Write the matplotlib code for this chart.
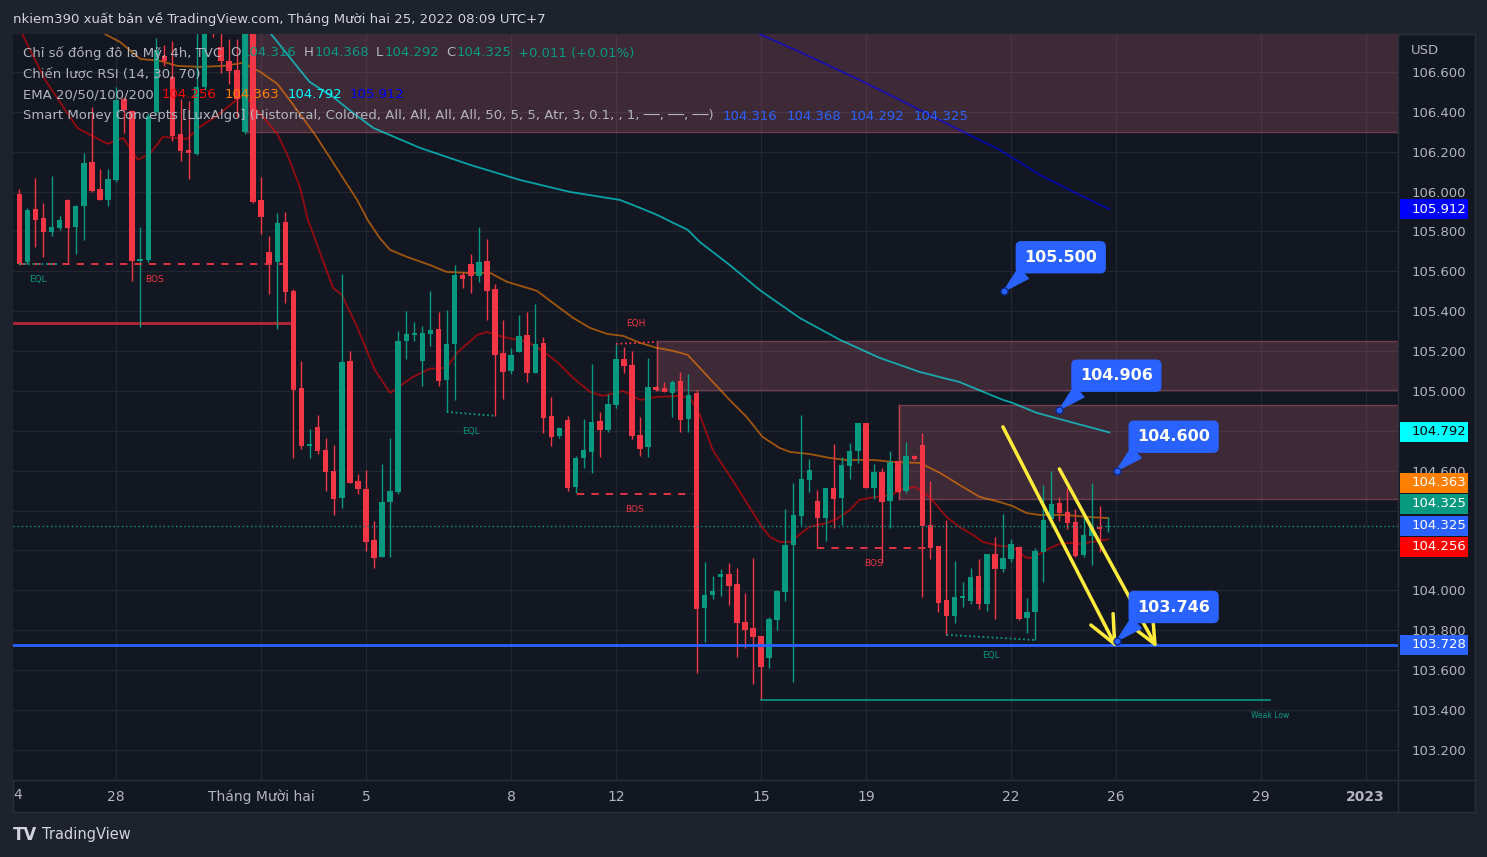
import numpy as np
import matplotlib
matplotlib.use('Agg')
import matplotlib.pyplot as plt
from matplotlib.patches import Rectangle
from matplotlib.lines import Line2D
from matplotlib.transforms import blended_transform_factory

plt.rcParams['font.family'] = ['DejaVu Sans']

W, H = 1487, 857
BG = '#131722'
OUTER = '#1e222d'
GRID = '#222631'
TXT = '#b2b5be'
UP = '#089981'
DOWN = '#f23645'

## DXY 4h candles (one value per bar)
opens = [105.988, 105.647, 105.913, 105.868, 105.798, 105.818, 105.958, 105.823, 105.928, 106.149,
         106.013, 105.958, 106.058, 106.465, 106.404, 105.652, 105.657, 106.399, 106.680, 106.575,
         106.289, 106.209, 106.189, 106.525, 106.851, 106.725, 106.655, 106.610, 106.299, 106.811,
         105.958, 105.697, 105.647, 105.848, 105.502, 105.015, 104.724, 104.819, 104.704, 104.599,
         104.464, 105.151, 104.549, 104.509, 104.253, 104.168, 104.443, 104.494, 105.251, 105.281,
         105.151, 105.286, 105.311, 105.055, 105.236, 105.582, 105.637, 105.577, 105.652, 105.512,
         105.191, 105.100, 105.196, 105.281, 105.090, 105.241, 104.875, 104.774, 104.854, 104.519,
         104.664, 104.694, 104.850, 104.805, 104.930, 105.161, 105.131, 104.779, 104.719, 105.020,
         105.015, 104.990, 105.050, 104.860, 104.990, 103.912, 103.977, 104.068, 104.083, 104.033,
         103.842, 103.811, 103.771, 103.661, 103.852, 103.992, 104.228, 104.373, 104.554, 104.449,
         104.363, 104.514, 104.464, 104.624, 104.699, 104.840, 104.514, 104.594, 104.449, 104.649,
         104.499, 104.674, 104.729, 104.328, 104.223, 103.952, 103.872, 103.962, 103.947, 104.073,
         103.932, 104.183, 104.108, 104.158, 104.218, 103.862, 103.892, 104.193, 104.358, 104.439,
         104.393, 104.343, 104.178, 104.273, 104.318, 104.316]
highs = [106.013, 105.918, 106.068, 105.943, 106.078, 105.878, 105.963, 105.933, 106.194, 106.424,
         106.114, 106.114, 106.525, 106.475, 106.409, 105.823, 106.394, 106.770, 106.735, 106.755,
         106.465, 106.455, 106.811, 106.861, 106.911, 106.795, 106.765, 106.765, 106.861, 106.836,
         106.073, 105.778, 105.893, 105.898, 105.512, 105.151, 104.810, 104.880, 104.764, 104.729,
         105.587, 105.201, 104.584, 104.604, 104.348, 104.634, 104.764, 105.301, 105.401, 105.346,
         105.326, 105.502, 105.396, 105.406, 105.632, 105.597, 105.687, 105.823, 105.762, 105.537,
         105.356, 105.216, 105.381, 105.396, 105.436, 105.271, 104.970, 104.819, 104.875, 104.674,
         104.860, 105.136, 104.895, 104.985, 105.236, 105.221, 105.201, 104.870, 105.166, 105.025,
         105.045, 105.055, 105.095, 105.085, 105.005, 104.143, 104.072, 104.108, 104.138, 104.113,
         103.987, 104.163, 103.771, 103.867, 104.002, 104.409, 104.539, 104.880, 104.659, 104.504,
         104.514, 104.734, 104.669, 104.739, 104.840, 104.840, 104.634, 104.614, 104.699, 104.649,
         104.745, 104.679, 104.790, 104.549, 104.223, 104.353, 104.148, 104.042, 104.113, 104.158,
         104.183, 104.268, 104.383, 104.258, 104.223, 103.962, 104.213, 104.529, 104.599, 104.469,
         104.514, 104.409, 104.394, 104.539, 104.424, 104.368]
lows = [105.632, 105.637, 105.722, 105.672, 105.778, 105.808, 105.637, 105.687, 105.757, 105.998,
        105.958, 105.928, 106.048, 106.294, 105.552, 105.321, 105.647, 106.389, 106.630, 106.254,
        106.154, 106.063, 106.184, 106.510, 106.775, 106.595, 106.540, 106.374, 106.289, 105.943,
        105.788, 105.487, 105.311, 105.441, 104.664, 104.709, 104.664, 104.684, 104.499, 104.378,
        104.413, 104.539, 104.484, 104.198, 104.113, 104.168, 104.168, 104.484, 105.161, 105.251,
        105.025, 105.226, 105.025, 104.895, 104.955, 105.517, 105.492, 105.547, 105.356, 104.875,
        104.960, 105.085, 105.196, 105.045, 105.090, 104.789, 104.724, 104.764, 104.499, 104.489,
        104.614, 104.589, 104.669, 104.795, 104.915, 105.090, 104.759, 104.674, 104.669, 105.000,
        104.995, 104.870, 104.795, 104.795, 103.586, 103.742, 103.957, 103.972, 103.927, 103.666,
        103.711, 103.531, 103.451, 103.611, 103.801, 103.947, 103.541, 104.328, 104.494, 104.213,
        104.248, 104.313, 104.328, 104.559, 104.639, 104.514, 104.459, 104.138, 104.313, 104.494,
        104.489, 104.654, 103.967, 104.158, 103.892, 103.777, 103.837, 103.917, 103.932, 103.907,
        103.897, 103.857, 104.093, 104.143, 103.852, 103.787, 103.751, 104.042, 104.333, 104.348,
        104.308, 104.168, 104.168, 104.128, 104.193, 104.292]
closes = [105.637, 105.908, 105.858, 105.798, 105.823, 105.858, 105.818, 105.928, 106.144, 106.003,
          105.958, 106.063, 106.460, 106.409, 105.652, 105.662, 106.379, 106.710, 106.655, 106.279,
          106.204, 106.194, 106.525, 106.836, 106.821, 106.655, 106.605, 106.465, 106.811, 105.948,
          105.873, 105.642, 105.843, 105.497, 105.005, 104.724, 104.734, 104.699, 104.594, 104.459,
          105.146, 104.539, 104.509, 104.243, 104.163, 104.443, 104.499, 105.251, 105.286, 105.291,
          105.291, 105.306, 105.050, 105.236, 105.582, 105.562, 105.577, 105.647, 105.502, 105.180,
          105.095, 105.180, 105.276, 105.090, 105.236, 104.865, 104.769, 104.814, 104.514, 104.664,
          104.704, 104.845, 104.805, 104.935, 105.161, 105.126, 104.774, 104.709, 105.020, 105.005,
          104.995, 105.045, 104.855, 104.980, 103.907, 103.977, 103.997, 104.083, 104.023, 103.837,
          103.801, 103.766, 103.616, 103.857, 103.997, 104.228, 104.378, 104.559, 104.604, 104.363,
          104.514, 104.459, 104.629, 104.699, 104.840, 104.514, 104.594, 104.443, 104.644, 104.494,
          104.674, 104.659, 104.323, 104.213, 103.937, 103.872, 103.967, 103.972, 104.068, 103.932,
          104.183, 104.108, 104.163, 104.233, 103.857, 103.892, 104.198, 104.353, 104.434, 104.388,
          104.338, 104.173, 104.278, 104.323, 104.308, 104.325]

## EMA lines (bar index, price)
ema20_x = [0.1, 3.2, 7.2, 10.9, 12.9, 14.7, 16.2, 17.8, 20.8, 22.4, 24.5, 27.4, 28.6, 29.9, 32.0, 33.2,
           34.8, 35.8, 38.9, 40.0, 41.9, 44.1, 46.0, 48.8, 50.9, 53.0, 54.3, 56.8, 58.0, 60.0, 63.0,
           64.2, 66.7, 68.7, 70.8, 72.4, 74.9, 77.0, 79.1, 81.9, 83.2, 84.4, 86.0, 89.0, 92.1, 93.1,
           94.3, 95.6, 98.0, 100.1, 101.4, 103.0, 104.2, 106.3, 108.3, 109.2, 111.1, 112.9, 115.0,
           116.6, 118.3, 119.5, 121.6, 123.2, 124.9, 125.7, 127.4, 129.0, 130.3, 131.5, 133.1, 135.0]
ema20_y = [106.811, 106.560, 106.319, 106.239, 106.269, 106.159, 106.189, 106.274, 106.264, 106.324,
           106.379, 106.475, 106.454, 106.389, 106.289, 106.189, 106.023, 105.858, 105.517, 105.482,
           105.321, 105.105, 104.990, 105.070, 105.111, 105.116, 105.191, 105.281, 105.296, 105.271,
           105.246, 105.221, 105.146, 105.065, 104.995, 104.975, 105.000, 104.955, 104.970, 104.975,
           104.965, 104.880, 104.704, 104.519, 104.318, 104.268, 104.243, 104.243, 104.318, 104.338,
           104.358, 104.403, 104.454, 104.469, 104.479, 104.504, 104.519, 104.469, 104.368, 104.318,
           104.278, 104.243, 104.223, 104.218, 104.163, 104.163, 104.203, 104.233, 104.238, 104.233,
           104.243, 104.256]
ema50_x = [9.4, 10.6, 12.5, 15.0, 17.5, 19.6, 22.4, 25.3, 27.7, 29.9, 32.0, 33.9, 34.8, 36.7, 39.1,
           41.9, 43.2, 44.7, 46.0, 48.1, 50.9, 53.0, 55.5, 58.4, 60.5, 63.0, 64.2, 66.2, 68.7, 70.8,
           72.9, 74.9, 77.0, 79.1, 81.1, 82.9, 84.4, 88.1, 90.2, 92.2, 94.3, 95.6, 98.0, 100.5, 102.6,
           105.9, 108.3, 111.7, 114.2, 116.6, 119.1, 121.6, 123.2, 124.9, 126.6, 129.9, 132.4, 135.0]
ema50_y = [106.836, 106.790, 106.750, 106.665, 106.655, 106.630, 106.625, 106.630, 106.645, 106.600,
           106.540, 106.439, 106.389, 106.284, 106.134, 105.958, 105.858, 105.767, 105.707, 105.672,
           105.632, 105.597, 105.592, 105.592, 105.547, 105.517, 105.502, 105.441, 105.366, 105.316,
           105.286, 105.276, 105.241, 105.216, 105.201, 105.181, 105.116, 104.955, 104.870, 104.769,
           104.714, 104.694, 104.684, 104.664, 104.654, 104.654, 104.644, 104.639, 104.589, 104.529,
           104.469, 104.443, 104.423, 104.388, 104.378, 104.378, 104.368, 104.363]
ema100_x = [29.9, 31.1, 33.6, 36.0, 38.9, 41.4, 43.9, 49.7, 55.9, 62.1, 68.3, 74.5, 77.0, 79.1, 81.1,
            82.9, 84.4, 88.1, 91.8, 96.8, 101.8, 106.7, 111.7, 116.6, 122.0, 123.2, 126.2, 129.4, 135.2]
ema100_y = [106.861, 106.796, 106.670, 106.550, 106.475, 106.394, 106.319, 106.219, 106.134, 106.058,
            105.998, 105.958, 105.918, 105.883, 105.843, 105.808, 105.747, 105.632, 105.507, 105.366,
            105.256, 105.166, 105.095, 105.045, 104.955, 104.940, 104.890, 104.855, 104.792]
ema200_x = [89.4, 91.8, 96.8, 104.2, 109.2, 116.6, 121.6, 126.6, 131.5, 135.2]
ema200_y = [106.836, 106.790, 106.700, 106.560, 106.460, 106.309, 106.209, 106.083, 105.983, 105.912]

## Smart Money Concepts structures
bos_lines = [(0.0, 33.6, 105.637), (69.2, 83.5, 104.484), (99.0, 113.0, 104.213)]
eql_lines = [(0.0, 4.7, 105.637, 105.637), (53.0, 59.0, 104.895, 104.875), (115.0, 126.0, 103.777, 103.751)]
eqh_line = (74.0, 79.0, 105.236, 105.246)
swing_line = (-1.0, 33.7, 105.341)
weak_low = (92.0, 155.1, 103.451)
zones = [(28.0, 106.299, 106.95), (79.1, 105.005, 105.251), (109.1, 104.459, 104.930)]

support = 103.728
last_close = 104.325
notes = [(122.1, 105.500), (129.0, 104.906), (136.1, 104.600), (136.1, 103.746)]
arrows = [(122.0, 104.820, 136.1, 103.712), (129.0, 104.609, 141.1, 103.712)]

tick_pos = [12, 30, 43, 61, 74, 92, 105, 123, 136, 154, 167]
tick_lab = ['28', 'Tháng Mười hai', '5', '8', '12', '15', '19', '22', '26', '29', '2023']
price_ticks = np.round(np.arange(103.2, 106.7, 0.2), 1)
hidden_ticks = [104.2, 104.4]   # covered by the price tags

# price tags on the right scale: text, y position, background, text colour
tags = [('105.912', 105.912, '#0000ff', 'white'),
        ('104.792', 104.795, '#00ffff', 'black'),
        ('104.363', 104.539, '#ff8000', 'white'),
        ('104.325', 104.434, '#089981', 'white'),
        ('104.325', 104.323, '#2962ff', 'white'),
        ('104.256', 104.218, '#ff0000', 'white'),
        ('103.728', 103.726, '#2962ff', 'white')]


def fx(x):
    return x / W


def fy(y):
    return 1 - y / H


fig = plt.figure(figsize=(W / 100, H / 100), dpi=100, facecolor=OUTER)

# chart widget background + separators
fig.patches.append(Rectangle((fx(13), fy(812)), (1475 - 13) / W, (812 - 34) / H,
                             transform=fig.transFigure, fc=BG, ec='#2a2e39', lw=1, zorder=-5))
fig.add_artist(Line2D([fx(1398), fx(1398)], [fy(812), fy(34)], color='#2a2e39', lw=1, zorder=1))
fig.add_artist(Line2D([fx(13), fx(1475)], [fy(780), fy(780)], color='#2a2e39', lw=1, zorder=1))

ax = fig.add_axes([fx(13), fy(780), (1398 - 13) / W, (780 - 34) / H])
ax.set_facecolor(BG)
ax.set_xlim(-0.78, 171.0)
ax.set_ylim(103.049, 106.790)
for s in ax.spines.values():
    s.set_visible(False)

ax.yaxis.tick_right()
ax.set_yticks(price_ticks)
ax.set_yticklabels(['' if v in hidden_ticks else '%.3f' % v for v in price_ticks])
ax.tick_params(axis='y', length=0, pad=10, labelsize=9.5, labelcolor=TXT)
ax.set_xticks(tick_pos)
ax.set_xticklabels(tick_lab)
ax.tick_params(axis='x', length=0, pad=7, labelsize=10, labelcolor=TXT)
ax.get_xticklabels()[-1].set_fontweight('bold')
ax.grid(True, color=GRID, lw=1, zorder=0)
ax.set_axisbelow(True)

# the cut "24" at the left edge: only the 4 shows
fig.text(fx(13.5), fy(795), '4', color=TXT, fontsize=10, ha='left', va='center')

# zones
right = 172
for x0, y0, y1 in zones:
    ax.add_patch(Rectangle((x0, y0), right - x0, y1 - y0, fc=(0.93, 0.45, 0.55, 0.2),
                           ec=(0.93, 0.45, 0.55, 0.35), lw=1, zorder=1))
for x0, y0, y1 in zones[1:]:
    ax.plot([x0, x0], [y0, y1], color='#c2414f', lw=1, zorder=1.5)

# EMAs
ax.plot(ema20_x, ema20_y, color=(1, 0, 0, 0.55), lw=1.3, zorder=2)
ax.plot(ema50_x, ema50_y, color=(1, 0.5, 0, 0.6), lw=1.3, zorder=2)
ax.plot(ema100_x, ema100_y, color=(0, 1, 1, 0.6), lw=1.3, zorder=2)
ax.plot(ema200_x, ema200_y, color=(0, 0, 1, 0.6), lw=1.3, zorder=2)

# candles
o = np.array(opens)
hi = np.array(highs)
lo = np.array(lows)
c = np.array(closes)
x = np.arange(len(o))
col = np.where(c >= o, UP, DOWN)
ax.vlines(x, lo, hi, colors=col, lw=1, zorder=3)
ax.bar(x, np.maximum(np.abs(c - o), 0.006), bottom=np.minimum(o, c), width=0.68,
       color=col, lw=0, zorder=4)

# SMC lines and labels
xs0, xs1, ys = swing_line
ax.plot([xs0, xs1], [ys, ys], color='#b22833', lw=2, zorder=2.5)
for x0, x1, y in bos_lines:
    ax.plot([x0, x1], [y, y], color=DOWN, lw=1.3, ls=(0, (4, 4)), zorder=5)
    ax.text((x0 + x1) / 2, y - 0.08, 'BOS', color=DOWN, fontsize=6.5, ha='center', va='center', zorder=5)
for x0, x1, y0, y1 in eql_lines:
    ax.plot([x0, x1], [y0, y1], color=UP, lw=1.3, ls=(0, (1, 1.5)), zorder=5)
    ax.text((x0 + x1) / 2, min(y0, y1) - 0.08, 'EQL', color=UP, fontsize=6.5, ha='center', va='center', zorder=5)
x0, x1, y0, y1 = eqh_line
ax.plot([x0, x1], [y0, y1], color=DOWN, lw=1.3, ls=(0, (1, 1.5)), zorder=5)
ax.text((x0 + x1) / 2, y1 + 0.09, 'EQH', color=DOWN, fontsize=6.5, ha='center', va='center', zorder=5)
x0, x1, y = weak_low
ax.plot([x0, x1], [y, y], color=UP, lw=1.2, zorder=5)
ax.text(x1, y - 0.08, 'Weak Low', color=UP, fontsize=5.5, ha='center', va='center', zorder=5)

ax.axhline(support, color='#2962ff', lw=2, zorder=5)
ax.axhline(last_close, color=UP, lw=1, ls=(0, (1, 2)), zorder=5)

# yellow arrows
for xa, ya, xb, yb in arrows:
    ax.annotate('', xy=(xb, yb), xytext=(xa, ya),
                arrowprops=dict(arrowstyle='->,head_length=1.0,head_width=0.45', color='#ffeb3b',
                                lw=2.5, shrinkA=0, shrinkB=0, mutation_scale=20), zorder=6)

# price notes
for xn, yn in notes:
    ax.annotate('%.3f' % yn, xy=(xn, yn), xytext=(57, 34), textcoords='offset pixels',
                ha='center', va='center', fontsize=11.5, fontweight='bold', color='white', zorder=7,
                bbox=dict(boxstyle='round,pad=0.5,rounding_size=0.3', fc='#2962ff', ec='#2962ff'),
                arrowprops=dict(arrowstyle='wedge,tail_width=0.9,shrink_factor=0.5', fc='#2962ff',
                                ec='#2962ff', relpos=(0.15, 0.15), shrinkA=0, shrinkB=0))
    ax.plot(xn, yn, 'o', ms=5, mfc='#2962ff', mec='#0d2a8a', mew=1, zorder=8)

# right scale tags
tr = blended_transform_factory(ax.transAxes, ax.transData)
aw = (1398 - 13) / 1.0
th = 20 * (106.790 - 103.049) / 746
for txt, yp, bg, fg in tags:
    ax.add_patch(Rectangle(((1400 - 13) / aw, yp - th / 2), 68 / aw, th, transform=tr,
                           fc=bg, ec='none', clip_on=False, zorder=9))
    ax.text((1412 - 13) / aw, yp, txt, transform=tr, color=fg, fontsize=9.5,
            ha='left', va='center', clip_on=False, zorder=10)

fig.text(fx(1411), fy(50), 'USD', color=TXT, fontsize=9.5, va='center', ha='left')

# header / footer
fig.text(fx(13), fy(19), 'nkiem390 xuất bản về TradingView.com, Tháng Mười hai 25, 2022 08:09 UTC+7',
         color='#d1d4dc', fontsize=9.5, va='center', ha='left')
fig.text(fx(13), fy(835), 'TV', color='#d1d4dc', fontsize=12, fontweight='bold', va='center', ha='left')
fig.text(fx(42), fy(835), 'TradingView', color='#d1d4dc', fontsize=10.5, va='center', ha='left')

# legend rows with coloured values
fig.canvas.draw()
rend = fig.canvas.get_renderer()


def seq_text(x0, y0, parts, size=9.5):
    xx = x0
    for s, colr, gap in parts:
        t = fig.text(fx(xx), fy(y0), s, color=colr, fontsize=size, va='center', ha='left', zorder=11)
        xx = t.get_window_extent(rend).x1 + gap


seq_text(23, 53, [('Chỉ số đồng đô la Mỹ, 4h, TVC', TXT, 8), ('O', TXT, 1), ('104.316', UP, 7),
                  ('H', TXT, 1), ('104.368', UP, 7), ('L', TXT, 1), ('104.292', UP, 7),
                  ('C', TXT, 1), ('104.325', UP, 7), ('+0.011 (+0.01%)', UP, 0)])
seq_text(23, 74, [('Chiến lược RSI (14, 30, 70)', TXT, 0)])
seq_text(23, 95, [('EMA 20/50/100/200', TXT, 8), ('104.256', '#ff0000', 8), ('104.363', '#ff8000', 8),
                  ('104.792', '#00ffff', 8), ('105.912', '#0000ff', 0)])
seq_text(23, 116, [('Smart Money Concepts [LuxAlgo] (Historical, Colored, All, All, All, All, 50, 5, 5, '
                    'Atr, 3, 0.1, , 1, ──, ──, ──)', TXT, 9),
                   ('104.316', '#2962ff', 9), ('104.368', '#2962ff', 9), ('104.292', '#2962ff', 9),
                   ('104.325', '#2962ff', 0)])

fig.savefig('out.png', dpi=100, facecolor=OUTER)
